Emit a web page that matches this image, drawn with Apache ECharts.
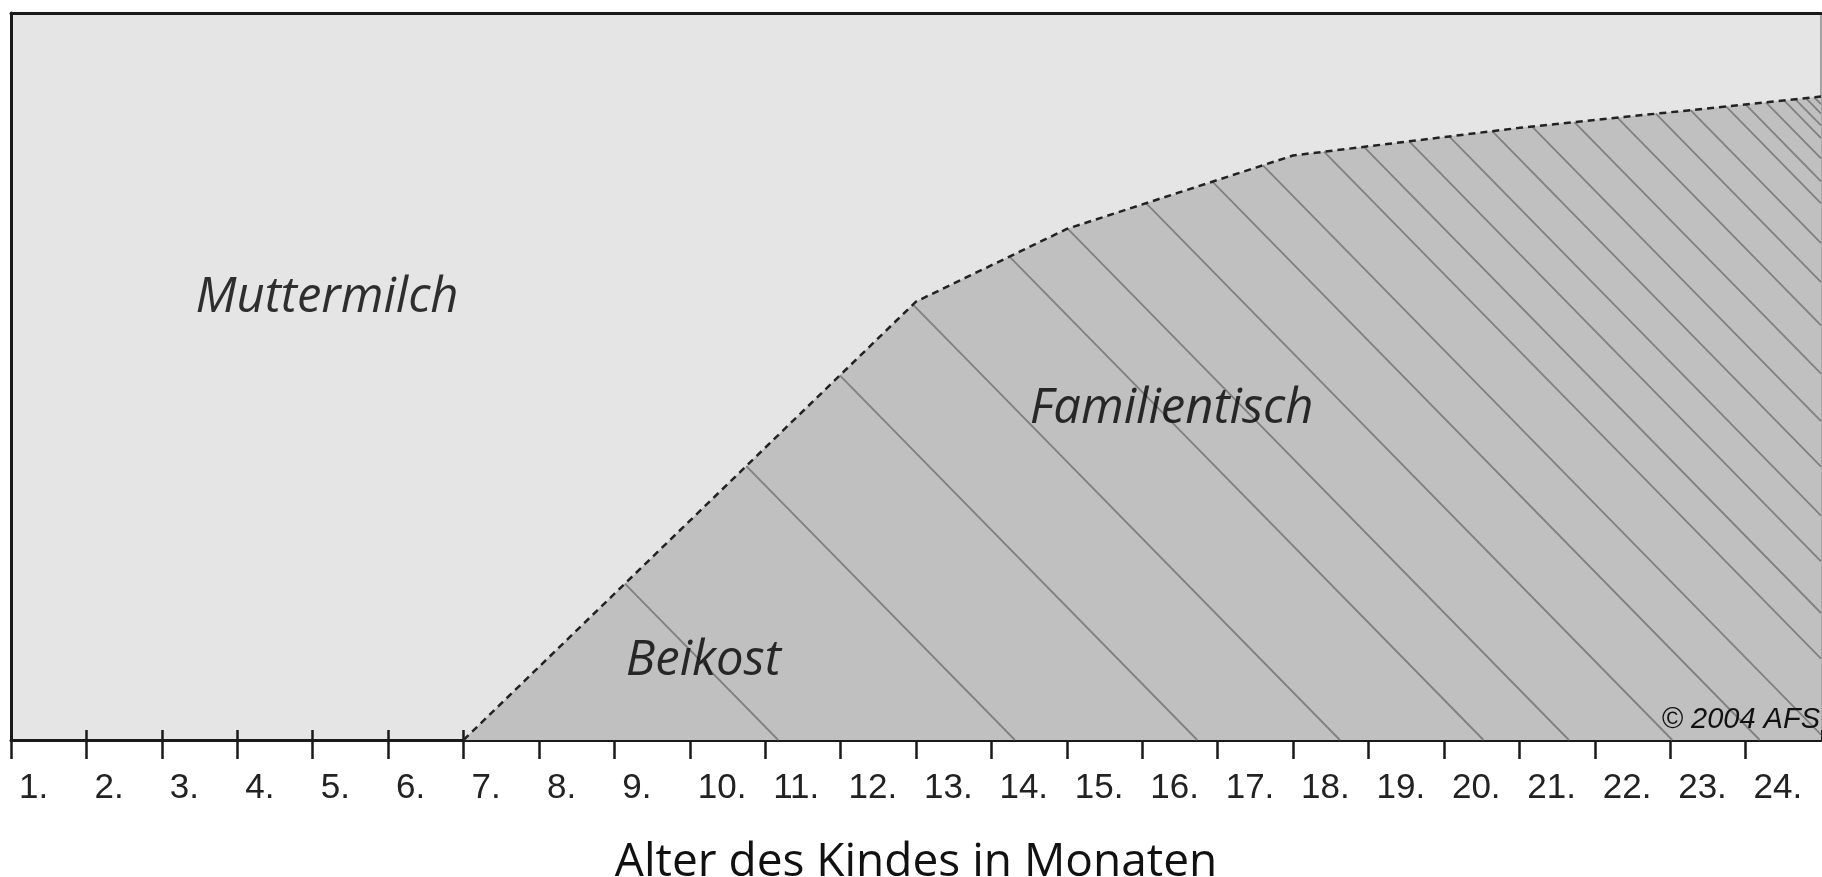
<!DOCTYPE html>
<html>
<head>
<meta charset="utf-8">
<script src="https://cdn.jsdelivr.net/npm/echarts@6/dist/echarts.min.js"></script>
<style>
  html, body { margin: 0; padding: 0; background: #fff; }
  #main { width: 1822px; height: 877px; }
</style>
</head>
<body>
<div id="main"></div>
<script>
// Alter in Monaten (x) / Anteil Familientisch (y, 0..100 of plot height)
const months = [7, 13, 15, 18, 21, 25];
const shareFamily = [0, 60.3, 70.3, 80.4, 84.2, 88.5];

// hatch lines start on the boundary at these months
const hatchStarts = [9.14, 10.75, 11.99, 12.96, 14.24, 15.01, 16.05, 16.93, 17.6, 18.41, 18.94,
    19.54, 20.07, 20.64, 21.17, 21.73, 22.3, 22.81, 23.27, 23.74, 24.0, 24.27, 24.51, 24.66, 24.8, 24.91];

const tickLabels = ['1.', '2.', '3.', '4.', '5.', '6.', '7.', '8.', '9.', '10.', '11.', '12.',
    '13.', '14.', '15.', '16.', '17.', '18.', '19.', '20.', '21.', '22.', '23.', '24.'];

const regionNames = ['Muttermilch', 'Familientisch', 'Beikost'];
const regionAnchors = [[5.19, 60.8], [16.39, 45.5], [10.18, 10.8]];

const chart = echarts.init(document.getElementById('main'));

function boundaryAt(m) {
    for (let i = 0; i < months.length - 1; i++) {
        if (m >= months[i] && m <= months[i + 1]) {
            const t = (m - months[i]) / (months[i + 1] - months[i]);
            return shareFamily[i] + t * (shareFamily[i + 1] - shareFamily[i]);
        }
    }
    return 0;
}

const curve = months.map((m, i) => [m, shareFamily[i]]);
const HATCH_SLOPE = 1.02;

const option = {
    animation: false,
    grid: {
        left: 11, right: 1, top: 13, bottom: 137,
        outerBoundsMode: 'none',
        containLabel: false,
        show: true,
        backgroundColor: '#e5e5e5',
        borderWidth: 0
    },
    xAxis: [{
        type: 'value',
        min: 1, max: 25, interval: 1,
        position: 'bottom',
        axisLine: { show: true, onZero: false, lineStyle: { color: '#1a1a1a', width: 3 } },
        axisTick: { show: true, length: 19, lineStyle: { color: '#1a1a1a', width: 2.5 } },
        splitLine: { show: false },
        axisLabel: {
            show: true,
            margin: 31,
            align: 'left',
            padding: [0, 0, 0, 8],
            fontFamily: "'Liberation Sans', Arial, sans-serif",
            fontSize: 35,
            color: '#222',
            showMaxLabel: false,
            formatter: v => tickLabels[v - 1] || ''
        },
        name: 'Alter des Kindes in Monaten',
        nameLocation: 'middle',
        nameGap: 100,
        nameTextStyle: { fontFamily: "'Open Sans', sans-serif", fontSize: 46, color: '#111' }
    }, {
        type: 'value',
        min: 1, max: 25, interval: 1,
        position: 'bottom',
        axisLine: { show: false },
        axisTick: { show: true, inside: true, length: 10, lineStyle: { color: '#1a1a1a', width: 2.5 } },
        axisLabel: { show: false },
        splitLine: { show: false }
    }, {
        type: 'value',
        min: 1, max: 25,
        position: 'top',
        axisLine: { show: true, onZero: false, lineStyle: { color: '#1a1a1a', width: 3 } },
        axisTick: { show: false },
        axisLabel: { show: false },
        splitLine: { show: false }
    }],
    yAxis: [{
        type: 'value',
        min: 0, max: 100,
        position: 'left',
        axisLine: { show: true, onZero: false, lineStyle: { color: '#1a1a1a', width: 3 } },
        axisTick: { show: false },
        axisLabel: { show: false },
        splitLine: { show: false }
    }, {
        type: 'value',
        min: 0, max: 100,
        position: 'right',
        axisLine: { show: true, onZero: false, lineStyle: { color: '#8a8a8a', width: 1.5 } },
        axisTick: { show: false },
        axisLabel: { show: false },
        splitLine: { show: false }
    }],
    series: [{
        // grey area Beikost / Familientisch
        type: 'line',
        data: curve,
        symbol: 'none',
        lineStyle: { width: 0 },
        areaStyle: { color: '#c0c0c0', opacity: 1 },
        z: 1
    }, {
        type: 'custom',
        data: hatchStarts.map(m => [m]),
        renderItem: function (params, api) {
            const m = api.value(0);
            const p0 = api.coord([m, boundaryAt(m)]);
            const yBottom = api.coord([m, 0])[1];
            const xRight = api.coord([25, 0])[0];
            const t = Math.min((yBottom - p0[1]) / HATCH_SLOPE, xRight - p0[0]);
            return {
                type: 'line',
                shape: { x1: p0[0], y1: p0[1], x2: p0[0] + t, y2: p0[1] + t * HATCH_SLOPE },
                style: { stroke: '#808080', lineWidth: 1.8 }
            };
        },
        z: 2
    }, {
        type: 'line',
        data: curve,
        symbol: 'none',
        lineStyle: { color: '#222', width: 2.5, type: [7, 5] },
        z: 3
    }, {
        type: 'scatter',
        data: regionAnchors.map((p, i) => ({ name: regionNames[i], value: p })),
        symbolSize: 0,
        label: {
            show: true,
            position: 'inside',
            formatter: '{b}',
            fontFamily: "'Open Sans', sans-serif",
            fontStyle: 'italic',
            fontWeight: 500,
            fontSize: 49,
            color: '#000'
        },
        z: 4
    }],
    graphic: [{
        type: 'text',
        right: 2,
        top: 705,
        style: {
            text: '© 2004 AFS',
            font: 'italic 29px "Liberation Sans", Arial, sans-serif',
            fill: '#111'
        },
        z: 10
    }]
};

chart.setOption(option);
</script>
</body>
</html>
